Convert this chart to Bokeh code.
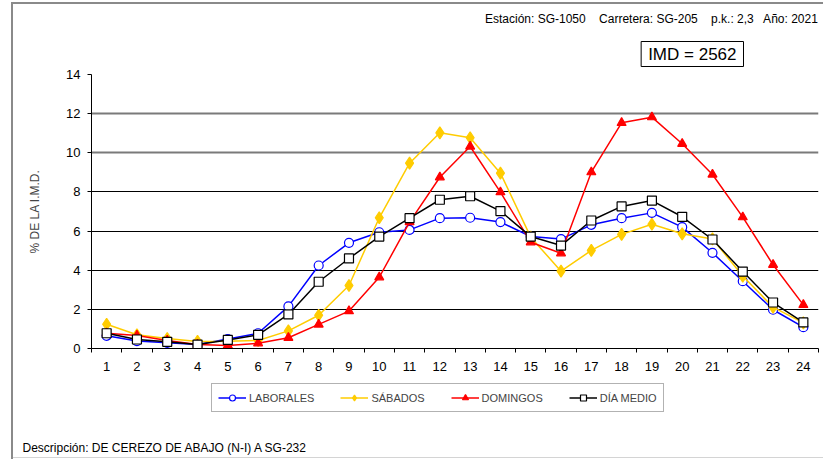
from bokeh.plotting import figure
from bokeh.models import Range1d, FixedTicker, Grid, Legend, LegendItem, Title
from bokeh.layouts import column
from bokeh.embed import file_html
from bokeh.resources import INLINE

hours = list(range(1, 25))
y_ticks = [0, 2, 4, 6, 8, 10, 12, 14]

laborales = [0.65, 0.38, 0.29, 0.2, 0.48, 0.78, 2.15, 4.24, 5.4, 5.94, 6.06, 6.66,
             6.68, 6.46, 5.72, 5.59, 6.32, 6.66, 6.93, 6.2, 4.89, 3.44, 1.98, 1.09]
sabados = [1.24, 0.7, 0.51, 0.36, 0.37, 0.41, 0.9, 1.7, 3.22, 6.68, 9.47, 11.02,
           10.77, 8.96, 5.69, 3.95, 5.01, 5.83, 6.35, 5.86, 5.6, 3.7, 2.11, 1.31]
domingos = [0.78, 0.66, 0.41, 0.2, 0.15, 0.27, 0.55, 1.23, 1.91, 3.64, 6.46, 8.75,
            10.32, 7.99, 5.43, 4.87, 9.01, 11.53, 11.82, 10.46, 8.89, 6.71, 4.28, 2.23]
dia_medio = [0.78, 0.46, 0.34, 0.2, 0.44, 0.7, 1.74, 3.41, 4.6, 5.72, 6.66, 7.6,
             7.78, 7.02, 5.72, 5.26, 6.54, 7.26, 7.56, 6.73, 5.57, 3.93, 2.35, 1.33]

series_names = ["LABORALES", "SÁBADOS", "DOMINGOS", "DÍA MEDIO"]
header_text = "Estación: SG-1050\u00a0\u00a0\u00a0 Carretera: SG-205\u00a0\u00a0\u00a0 p.k.: 2,3\u00a0\u00a0 Año: 2021"
imd_text = "IMD = 2562"
desc_text = "Descripción: DE CEREZO DE ABAJO (N-I) A SG-232"

FONT = "Liberation Sans"
W = 823
H_TOP = 375
H_BOT = 85

# ---------------- main chart ----------------
p = figure(width=W, height=H_TOP, output_backend="svg", toolbar_location=None, title=None,
           x_range=Range1d(0.5, 24.5), y_range=Range1d(0, 14),
           min_border_left=91, min_border_right=5, min_border_top=74, min_border_bottom=27)
p.outline_line_color = None
p.background_fill_color = "white"
p.border_fill_color = None

p.xaxis.ticker = FixedTicker(ticks=hours, minor_ticks=[h - 0.5 for h in hours] + [hours[-1] + 0.5])
p.xaxis.major_tick_line_color = None
p.xaxis.major_tick_out = 0
p.xaxis.major_tick_in = 0
p.xaxis.minor_tick_line_color = "black"
p.xaxis.minor_tick_out = 4
p.xaxis.minor_tick_in = 0
p.xaxis.major_label_standoff = 9
p.xaxis.axis_line_color = "black"

p.yaxis.ticker = FixedTicker(ticks=y_ticks, minor_ticks=[])
p.yaxis.major_tick_out = 4
p.yaxis.major_tick_in = 0
p.yaxis.major_tick_line_color = "black"
p.yaxis.minor_tick_line_color = None
p.yaxis.major_label_standoff = 7
p.yaxis.axis_line_color = "black"
p.yaxis.axis_label = "% DE LA I.M.D."
p.yaxis.axis_label_text_font_style = "normal"
p.yaxis.axis_label_text_font_size = "12px"
p.yaxis.axis_label_text_font = FONT
p.yaxis.axis_label_standoff = 21

for ax in (p.xaxis, p.yaxis):
    ax.major_label_text_font = FONT
    ax.major_label_text_font_size = "13px"
    ax.major_label_text_color = "black"

p.xgrid.visible = False
p.ygrid.visible = False
p.add_layout(Grid(dimension=1, ticker=FixedTicker(ticks=[2, 4, 6, 8]),
                  grid_line_color="black", grid_line_width=1))
p.add_layout(Grid(dimension=1, ticker=FixedTicker(ticks=[10, 12, 14]),
                  grid_line_color="#7a7a7a", grid_line_width=2))

styles = [
    dict(line_color="#0000FF", marker="circle", size=9, m_line="#0000FF", m_fill="white"),
    dict(line_color="#FFCC00", marker="diamond", size=12, m_line="#FFCC00", m_fill="#FFCC00"),
    dict(line_color="#FF0000", marker="triangle", size=9, m_line="#FF0000", m_fill="#FF0000"),
    dict(line_color="black", marker="square", size=9, m_line="black", m_fill="white"),
]
data = [laborales, sabados, domingos, dia_medio]


def draw(fig, ys, st):
    ln = fig.line(hours, ys, line_color=st["line_color"], line_width=1.5)
    mk = fig.scatter(hours, ys, marker=st["marker"], size=st["size"], line_color=st["m_line"],
                     fill_color=st["m_fill"], line_width=1.2)
    return ln, mk


for ys, st in zip(data, styles):
    draw(p, ys, st)

imd = Title(text=imd_text, align="right", offset=75, standoff=16,
            text_font=FONT, text_font_size="17px", text_font_style="normal",
            text_color="black", border_line_color="black", border_line_width=1,
            background_fill_color="white", padding=(7, 3))
p.add_layout(imd, "above")

header = Title(text=header_text, align="right", offset=0, standoff=12,
               text_font=FONT, text_font_size="12px", text_font_style="normal",
               text_color="black")
p.add_layout(header, "above")

# ---------------- legend strip + description ----------------
q = figure(width=W, height=H_BOT, output_backend="svg", toolbar_location=None, title=None,
           x_range=Range1d(0.5, 24.5), y_range=Range1d(100, 101),
           x_axis_type=None, y_axis_type=None,
           min_border_left=0, min_border_right=0, min_border_top=0, min_border_bottom=22)
q.outline_line_color = None
q.background_fill_color = None
q.border_fill_color = None
q.xgrid.visible = False
q.ygrid.visible = False

items = []
for name, ys, st in zip(series_names, data, styles):
    ln, mk = draw(q, ys, st)   # same series; outside this strip's range, used for the legend keys
    items.append(LegendItem(label=name, renderers=[ln, mk]))

legend = Legend(items=items, orientation="horizontal", location=(120, 26))
legend.label_text_font = FONT
legend.label_text_font_size = "11px"
legend.glyph_width = 28
legend.glyph_height = 15
legend.label_height = 15
legend.label_standoff = 3
legend.spacing = 26
legend.padding = 6
legend.margin = 0
legend.border_line_color = "#666666"
legend.border_line_width = 1.5
legend.background_fill_color = "white"
q.add_layout(legend)

desc = Title(text=desc_text, align="left", offset=-69, standoff=0,
             text_font=FONT, text_font_size="12px", text_font_style="normal",
             text_color="black")
q.add_layout(desc, "below")

page = column(p, q, spacing=0, styles={
    "background-color": "white",
    "background-image": "linear-gradient(#8a8a8a,#8a8a8a), linear-gradient(#8a8a8a,#8a8a8a), "
                        "linear-gradient(#d4d4d4,#d4d4d4)",
    "background-size": "2px 457px, 812px 2px, 812px 1px",
    "background-position": "11px 2px, 11px 2px, 11px 457px",
    "background-repeat": "no-repeat",
})

open("out.html", "w").write(file_html(page, INLINE))
